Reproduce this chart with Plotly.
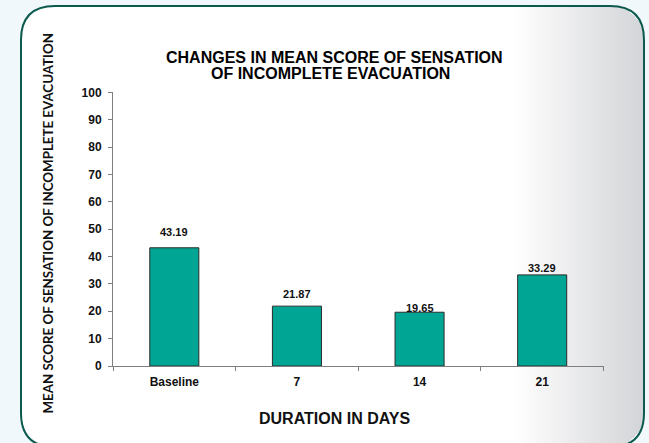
import base64
import struct
import zlib

import numpy as np
import plotly.graph_objects as go

# ---------------- data ----------------
categories = ["Baseline", "7", "14", "21"]
mean_scores = [43.19, 21.87, 19.65, 33.29]
value_labels = ["43.19", "21.87", "19.65", "33.29"]
y_tick_values = [0, 10, 20, 30, 40, 50, 60, 70, 80, 90, 100]

title_lines = ["CHANGES IN MEAN SCORE OF SENSATION", "OF INCOMPLETE EVACUATION"]
x_title = "DURATION IN DAYS"
y_title = "MEAN SCORE OF SENSATION OF INCOMPLETE EVACUATION"

# label lift above bar tops (px), styling only
label_lift = [16, 12, 4, 7]

# ---------------- geometry helpers ----------------
W, H = 649, 443


def fx(x):
    return x / W


def fy(y):
    return 1 - y / H


# frame (rounded rectangle) in pixels
RX0, RX1, RY0, RY1, RR = 21, 644, 6, 447, 34
OUTER = (240, 248, 252)
GRAD_START, GRAD_END = 515, 643
GRAD_COLOR = (212, 213, 216)


def make_background_png():
    yy, xx = np.mgrid[0:H, 0:W].astype(float) + 0.5
    img = np.empty((H, W, 3), dtype=float)
    img[:] = OUTER
    t = np.clip((xx - GRAD_START) / (GRAD_END - GRAD_START), 0, 1)
    inner = np.empty_like(img)
    for c in range(3):
        inner[..., c] = 255 + (GRAD_COLOR[c] - 255) * t
    cx = np.clip(xx, RX0 + RR, RX1 - RR)
    cy = np.clip(yy, RY0 + RR, RY1 - RR)
    d = np.sqrt((xx - cx) ** 2 + (yy - cy) ** 2)
    inside = (xx >= RX0) & (xx <= RX1) & (yy >= RY0) & (yy <= RY1) & (d <= RR)
    img[inside] = inner[inside]
    data = img.astype(np.uint8)
    raw = b"".join(b"\x00" + data[r].tobytes() for r in range(H))

    def chunk(tag, payload):
        c = struct.pack(">I", len(payload)) + tag + payload
        return c + struct.pack(">I", zlib.crc32(tag + payload) & 0xFFFFFFFF)

    png = b"\x89PNG\r\n\x1a\n"
    png += chunk(b"IHDR", struct.pack(">IIBBBBB", W, H, 8, 2, 0, 0, 0))
    png += chunk(b"IDAT", zlib.compress(raw, 9))
    png += chunk(b"IEND", b"")
    return "data:image/png;base64," + base64.b64encode(png).decode()


def rounded_path():
    x0, x1, y0, y1, r = RX0, RX1, RY0, RY1, RR
    pts = [
        f"M {fx(x0 + r)},{fy(y0)}",
        f"L {fx(x1 - r)},{fy(y0)}",
        f"Q {fx(x1)},{fy(y0)} {fx(x1)},{fy(y0 + r)}",
        f"L {fx(x1)},{fy(y1 - r)}",
        f"Q {fx(x1)},{fy(y1)} {fx(x1 - r)},{fy(y1)}",
        f"L {fx(x0 + r)},{fy(y1)}",
        f"Q {fx(x0)},{fy(y1)} {fx(x0)},{fy(y1 - r)}",
        f"L {fx(x0)},{fy(y0 + r)}",
        f"Q {fx(x0)},{fy(y0)} {fx(x0 + r)},{fy(y0)}",
        "Z",
    ]
    return " ".join(pts)


FONT = "Liberation Sans, Arial, sans-serif"
AXIS_GREY = "#7f7f7f"

fig = go.Figure()
fig.add_trace(
    go.Bar(
        x=categories,
        y=mean_scores,
        marker=dict(color="#00a693", line=dict(color="#2b2b2b", width=1)),
        width=0.4,
        hoverinfo="x+y",
    )
)

annotations = []
for idx, (val, txt, lift) in enumerate(zip(mean_scores, value_labels, label_lift)):
    annotations.append(
        dict(
            x=idx, y=val, xref="x", yref="y", text=txt, showarrow=False,
            yanchor="middle", yshift=lift,
            font=dict(family=FONT, size=11, color="#111111", weight="bold"),
        )
    )

annotations += [
    dict(x=fx(334), y=fy(57.5), xref="paper", yref="paper", text=title_lines[0],
         showarrow=False, xanchor="center", yanchor="middle",
         font=dict(family=FONT, size=16, color="#000000", weight="bold")),
    dict(x=fx(330), y=fy(74), xref="paper", yref="paper", text=title_lines[1],
         showarrow=False, xanchor="center", yanchor="middle",
         font=dict(family=FONT, size=16, color="#000000", weight="bold")),
    dict(x=fx(334), y=fy(418), xref="paper", yref="paper", text=x_title,
         showarrow=False, xanchor="center", yanchor="middle",
         font=dict(family=FONT, size=16, color="#111111", weight="bold")),
    dict(x=fx(47.5), y=fy(223), xref="paper", yref="paper", text=y_title,
         showarrow=False, xanchor="center", yanchor="middle", textangle=-90,
         font=dict(family="Lato, sans-serif", size=13.3, color="#111111", weight="bold")),
]

fig.update_layout(
    width=W,
    height=H,
    margin=dict(l=0, r=0, t=0, b=0, pad=0, autoexpand=False),
    paper_bgcolor="white",
    plot_bgcolor="rgba(0,0,0,0)",
    showlegend=False,
    images=[
        dict(source=make_background_png(), xref="paper", yref="paper",
             x=0, y=1, sizex=1, sizey=1, xanchor="left", yanchor="top",
             sizing="stretch", layer="below")
    ],
    shapes=[
        dict(type="path", path=rounded_path(), xref="paper", yref="paper",
             line=dict(color="#0b5a4d", width=2), fillcolor="rgba(0,0,0,0)",
             layer="below")
    ],
    annotations=annotations,
    xaxis=dict(
        domain=[fx(113), fx(603.5)],
        type="category",
        range=[-0.5, 3.5],
        automargin=False,
        showline=True, linecolor=AXIS_GREY, linewidth=1,
        ticks="outside", tickson="boundaries", ticklen=4, tickcolor=AXIS_GREY,
        ticklabelstandoff=5,
        tickfont=dict(family=FONT, size=12, color="#111111", weight="bold"),
        showgrid=False, zeroline=False, fixedrange=True,
    ),
    yaxis=dict(
        domain=[fy(366), fy(92.3)],
        range=[0, 100],
        tickvals=y_tick_values,
        automargin=False,
        showline=True, linecolor=AXIS_GREY, linewidth=1,
        ticks="outside", ticklen=4, tickcolor=AXIS_GREY,
        ticklabelstandoff=4,
        tickfont=dict(family=FONT, size=12, color="#111111", weight="bold"),
        showgrid=False, zeroline=False, fixedrange=True,
    ),
)

fig.write_html(
    "out.html",
    config={"displayModeBar": False},
    post_script="document.body.style.margin='0';document.body.style.overflow='hidden';",
)
